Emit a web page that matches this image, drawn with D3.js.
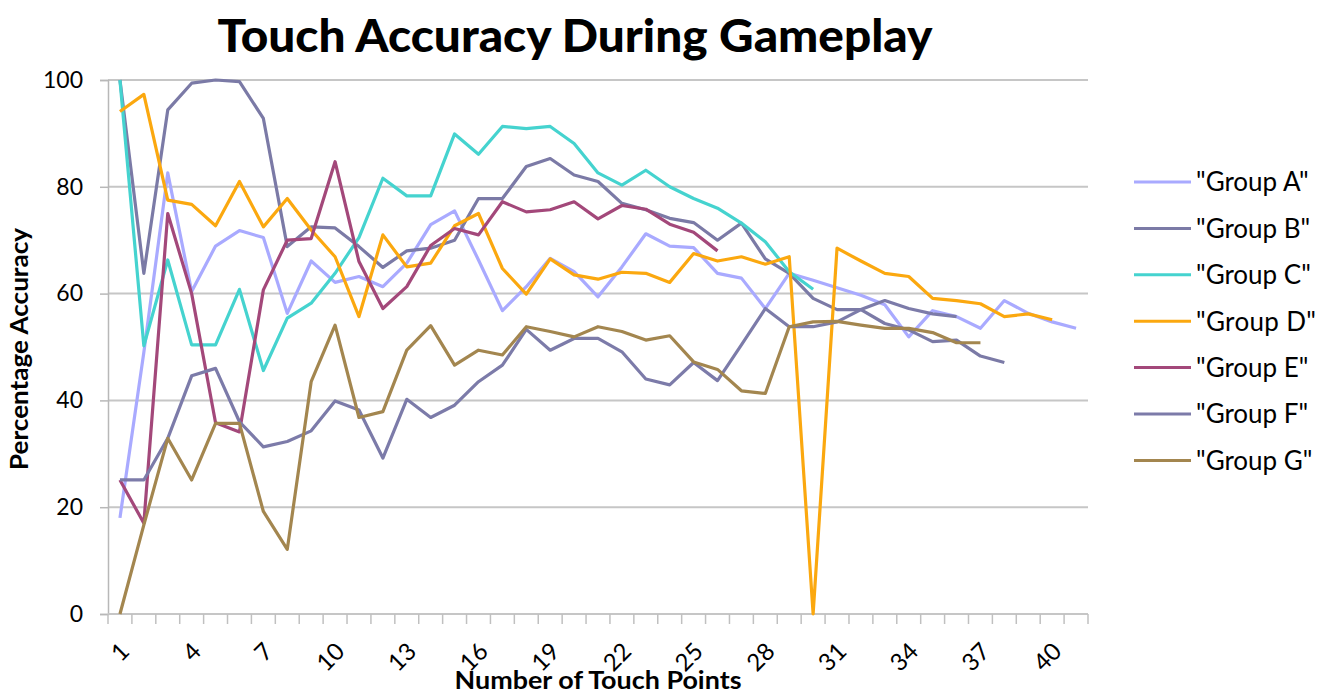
<!DOCTYPE html>
<html>
<head>
<meta charset="utf-8">
<script src="https://cdn.jsdelivr.net/npm/d3@7"></script>
<style>
  body { margin: 0; background: #fff; }
  text { font-family: Lato, "Open Sans", sans-serif; fill: #000; }
</style>
</head>
<body>
<div id="chart"></div>
<script>

// touch point index (category axis)
var touchPoints = d3.range(1, 42);
var tickLabels = [1, 4, 7, 10, 13, 16, 19, 22, 25, 28, 31, 34, 37, 40];
var yTicks = [0, 20, 40, 60, 80, 100];

var groupNames = ['"Group A"', '"Group B"', '"Group C"', '"Group D"', '"Group E"', '"Group F"', '"Group G"'];
var groupColors = ["#a9aaff", "#7b7aa6", "#45d3cf", "#fba80f", "#a3487a", "#7c7ba9", "#a3864f"];

// percentage accuracy per touch point (null = no data)
var groupA = [18, 49, 82.6, 60.4, 68.9, 71.8, 70.5, 56.3, 66.1, 62.1, 63.2, 61.3, 65.7, 72.9, 75.5, 66.3, 56.8, 61.3, 66.6, 64.1,
              59.4, 65.0, 71.2, 68.9, 68.6, 63.8, 62.9, 57.2, 63.8, 62.5, 61.1, 59.7, 57.9, 51.9, 56.8, 55.7, 53.5, 58.7, 56.3, 54.7, 53.5];
var groupB = [100, 63.8, 94.4, 99.4, 100, 99.7, 92.8, 68.8, 72.5, 72.3, 68.8, 64.9, 68.0, 68.5, 70.0, 77.8, 77.8, 83.8, 85.3, 82.2,
              81.0, 76.9, 75.7, 74.1, 73.3, 70.0, 73.2, 66.5, 63.8, 59.1, 57.0, 57.0, 54.4, 53.2, 51.0, 51.3, 48.3, 47.1, null, null, null];
var groupC = [100, 50.2, 66.3, 50.4, 50.4, 60.8, 45.6, 55.4, 58.2, 63.8, 70.5, 81.6, 78.3, 78.3, 89.9, 86.1, 91.3, 90.9, 91.3, 88.1,
              82.6, 80.3, 83.1, 80.0, 77.8, 76.0, 73.2, 69.7, 64.1, 60.8, null, null, null, null, null, null, null, null, null, null, null];
var groupD = [94.1, 97.3, 77.5, 76.7, 72.7, 81.0, 72.5, 77.8, 71.9, 66.9, 55.7, 71.0, 65.0, 65.7, 72.7, 75.0, 64.7, 59.9, 66.5, 63.5,
              62.7, 64.0, 63.8, 62.1, 67.5, 66.1, 66.9, 65.5, 66.9, 0, 68.5, 66.1, 63.8, 63.2, 59.1, 58.7, 58.1, 55.7, 56.2, 55.1, null];
var groupE = [25.1, 17.0, 75.0, 60.0, 35.8, 34.1, 60.7, 70.0, 70.3, 84.7, 66.0, 57.2, 61.3, 69.0, 72.2, 71.0, 77.2, 75.3, 75.7, 77.2,
              74.0, 76.5, 75.8, 73.0, 71.5, 68.0, null, null, null, null, null, null, null, null, null, null, null, null, null, null, null];
var groupF = [25.1, 25.1, 32.9, 44.6, 46.0, 36.0, 31.3, 32.3, 34.3, 39.9, 38.2, 29.2, 40.2, 36.8, 39.1, 43.5, 46.6, 53.3, 49.4, 51.6,
              51.6, 49.1, 44.0, 42.9, 47.1, 43.7, 50.4, 57.2, 53.8, 53.8, 54.7, 57.0, 58.7, 57.2, 56.2, 55.7, null, null, null, null, null];
var groupG = [0, 16.7, 32.9, 25.1, 35.7, 35.7, 19.2, 12.1, 43.5, 54.1, 36.8, 37.9, 49.4, 54.0, 46.6, 49.4, 48.5, 53.8, 52.9, 51.9,
              53.8, 52.9, 51.3, 52.1, 47.2, 45.8, 41.8, 41.3, 53.8, 54.7, 54.8, 54.1, 53.5, 53.5, 52.7, 50.8, 50.8, null, null, null, null];

var groupValues = [groupA, groupB, groupC, groupD, groupE, groupF, groupG];

var width = 1330, height = 693;
var margin = { top: 80, right: 242, bottom: 79, left: 108 };

var svg = d3.select("#chart").append("svg")
    .attr("width", width)
    .attr("height", height);

var x = d3.scaleBand()
    .domain(touchPoints)
    .range([margin.left, width - margin.right]);

var y = d3.scaleLinear()
    .domain([0, 100])
    .range([height - margin.bottom, margin.top]);

// horizontal gridlines
svg.append("g")
    .selectAll("line")
    .data(yTicks.filter(function(d) { return d > 0; }))
    .enter().append("line")
    .attr("x1", margin.left)
    .attr("x2", width - margin.right)
    .attr("y1", function(d) { return y(d); })
    .attr("y2", function(d) { return y(d); })
    .attr("stroke", "#c6c6c6")
    .attr("stroke-width", 2);

// y axis
var yAxis = svg.append("g")
    .attr("transform", "translate(" + margin.left + ",0)")
    .call(d3.axisLeft(y).tickValues(yTicks).tickSize(8).tickPadding(17));
yAxis.selectAll("line, path").attr("stroke", "#b8b8b8").attr("stroke-width", 1.5);
yAxis.selectAll("text").style("font-size", "23px").attr("fill", "#000");

// x axis: ticks between categories
var bounds = touchPoints.map(function(d) { return x(d); }).concat([x(41) + x.bandwidth()]);
var xAxis = svg.append("g");
xAxis.append("line")
    .attr("x1", margin.left).attr("x2", width - margin.right)
    .attr("y1", y(0)).attr("y2", y(0))
    .attr("stroke", "#c6c6c6").attr("stroke-width", 2);
xAxis.selectAll(".tk")
    .data(bounds)
    .enter().append("line")
    .attr("class", "tk")
    .attr("x1", function(d) { return d; }).attr("x2", function(d) { return d; })
    .attr("y1", y(0)).attr("y2", y(0) + 10)
    .attr("stroke", "#c0c0c0").attr("stroke-width", 1.5);
xAxis.selectAll(".lbl")
    .data(tickLabels)
    .enter().append("text")
    .attr("class", "lbl")
    .attr("text-anchor", "end")
    .style("font-size", "24px")
    .attr("transform", function(d) {
        var cx = x(d) + x.bandwidth() / 2;
        return "translate(" + (cx + 11) + "," + (y(0) + 39) + ") rotate(-45)";
    })
    .text(function(d) { return d; });

// lines
var line = d3.line()
    .defined(function(d) { return d.v !== null; })
    .x(function(d) { return x(d.t) + x.bandwidth() / 2; })
    .y(function(d) { return y(d.v); });

var series = groupNames.map(function(name, i) {
    return { name: name, color: groupColors[i],
             values: touchPoints.map(function(t, j) { return { t: t, v: groupValues[i][j] }; }) };
});

svg.append("g")
    .selectAll("path")
    .data(series)
    .enter().append("path")
    .attr("fill", "none")
    .attr("stroke", function(d) { return d.color; })
    .attr("stroke-width", 3.2)
    .attr("stroke-linejoin", "round")
    .attr("d", function(d) { return line(d.values); });

// legend
var legend = svg.append("g")
    .selectAll("g")
    .data(series)
    .enter().append("g")
    .attr("transform", function(d, i) { return "translate(1134," + (182 + i * 46.4) + ")"; });
legend.append("line")
    .attr("x1", 0).attr("x2", 57)
    .attr("stroke", function(d) { return d.color; })
    .attr("stroke-width", 3);
legend.append("text")
    .attr("x", 62)
    .attr("dy", "0.36em")
    .style("font-size", "26px")
    .attr("textLength", function(d) { return d.name === '"Group D"' ? 120 : null; })
    .text(function(d) { return d.name; });

// titles
svg.append("text")
    .attr("x", 575).attr("y", 52)
    .attr("text-anchor", "middle")
    .style("font-size", "46px").style("font-weight", "900")
    .attr("textLength", 715).attr("lengthAdjust", "spacingAndGlyphs")
    .text("Touch Accuracy During Gameplay");

svg.append("text")
    .attr("x", 598).attr("y", 689)
    .attr("text-anchor", "middle")
    .style("font-size", "24px").style("font-weight", "bold")
    .attr("textLength", 287).attr("lengthAdjust", "spacingAndGlyphs")
    .text("Number of Touch Points");

svg.append("text")
    .attr("transform", "translate(28,349) rotate(-90)")
    .attr("text-anchor", "middle")
    .style("font-size", "24px").style("font-weight", "bold")
    .attr("textLength", 242).attr("lengthAdjust", "spacingAndGlyphs")
    .text("Percentage Accuracy");

</script>
</body>
</html>
